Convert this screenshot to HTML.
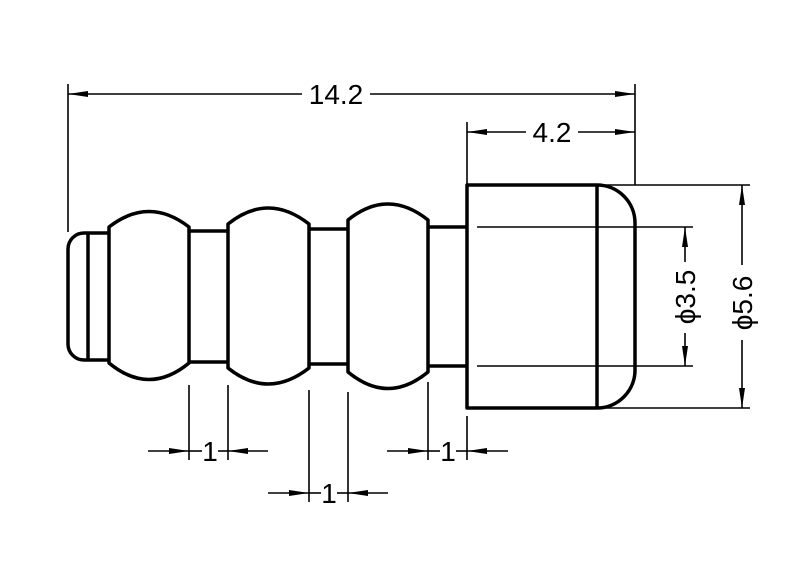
<!DOCTYPE html>
<html><head><meta charset="utf-8"><style>html,body{margin:0;padding:0;background:#fff}</style></head><body>
<svg width="800" height="576" viewBox="0 0 800 576" xmlns="http://www.w3.org/2000/svg">
<defs>
<marker id="a" viewBox="0 0 20 8" refX="20" refY="4" markerWidth="20" markerHeight="8" markerUnits="userSpaceOnUse" orient="auto-start-reverse"><path d="M0,1 L20,4 L0,7 Z" fill="#000"/></marker>
</defs>
<g fill="none" stroke="#000" stroke-width="3.5" stroke-linejoin="round">
<!-- tip -->
<path d="M88,233 L84,233 A16,16 0 0 0 68,249 L68,344 A16,16 0 0 0 84,360 L88,360"/>
<line x1="88" y1="233" x2="88" y2="360"/>
<path d="M88,233 L109,233 M88,360 L109,360"/>
<!-- bead 1 -->
<path d="M109,227 Q149,196 189,227 L189,363 Q149,396 109,363 Z"/>
<path d="M189,231 L228,231 M189,362 L228,362"/>
<path d="M228,224 Q268,192 309,224 L309,368 Q268,400 228,368 Z"/>
<path d="M309,229 L348,229 M309,364 L348,364"/>
<path d="M348,220 Q388,188 428,220 L428,372 Q388,405 348,372 Z"/>
<path d="M428,227 L467,227 M428,366 L467,366"/>
<!-- body -->
<path d="M467,185 L597,185 A38,38 0 0 1 635,223 L635,370 A38,38 0 0 1 597,408 L467,408 Z"/>
<line x1="597" y1="185" x2="597" y2="408"/>
</g>
<g stroke="#000" stroke-width="1.6" fill="none">
<line x1="477" y1="227" x2="693" y2="227"/>
<line x1="477" y1="366" x2="693" y2="366"/>
<line x1="597" y1="185" x2="750" y2="185"/>
<line x1="597" y1="408" x2="750" y2="408"/>
<line x1="68" y1="84" x2="68" y2="232"/>
<line x1="635" y1="84" x2="635" y2="185"/>
<line x1="467" y1="122" x2="467" y2="185"/>
<line x1="189" y1="385" x2="189" y2="460"/>
<line x1="228" y1="385" x2="228" y2="460"/>
<line x1="309" y1="390" x2="309" y2="502"/>
<line x1="348" y1="392" x2="348" y2="502"/>
<line x1="428" y1="382" x2="428" y2="460"/>
<line x1="467" y1="416" x2="467" y2="460"/>
<!-- dims -->
<line x1="68" y1="94" x2="302" y2="94" marker-start="url(#a)"/>
<line x1="370" y1="94" x2="635" y2="94" marker-end="url(#a)"/>
<line x1="467" y1="132" x2="526" y2="132" marker-start="url(#a)"/>
<line x1="578" y1="132" x2="635" y2="132" marker-end="url(#a)"/>
<line x1="148" y1="451" x2="189" y2="451" marker-end="url(#a)"/>
<line x1="268" y1="451" x2="228" y2="451" marker-end="url(#a)"/>
<line x1="189" y1="451" x2="202" y2="451"/><line x1="218" y1="451" x2="228" y2="451"/>
<line x1="268" y1="493" x2="309" y2="493" marker-end="url(#a)"/>
<line x1="388" y1="493" x2="348" y2="493" marker-end="url(#a)"/>
<line x1="309" y1="493" x2="321" y2="493"/><line x1="337" y1="493" x2="348" y2="493"/>
<line x1="387" y1="451" x2="428" y2="451" marker-end="url(#a)"/>
<line x1="508" y1="451" x2="467" y2="451" marker-end="url(#a)"/>
<line x1="428" y1="451" x2="440" y2="451"/><line x1="456" y1="451" x2="467" y2="451"/>
<line x1="685" y1="227" x2="685" y2="262" marker-start="url(#a)"/>
<line x1="685" y1="333" x2="685" y2="366" marker-end="url(#a)"/>
<line x1="742" y1="185" x2="742" y2="265" marker-start="url(#a)"/>
<line x1="742" y1="340" x2="742" y2="408" marker-end="url(#a)"/>
</g>
<g font-family="Liberation Sans, sans-serif" font-size="28" fill="#000" text-anchor="middle">
<text x="336" y="104">14.2</text>
<text x="552" y="142">4.2</text>
<text x="210" y="461">1</text>
<text x="329" y="503">1</text>
<text x="448" y="461">1</text>
<text transform="translate(695,297) rotate(-90)">ϕ3.5</text>
<text transform="translate(752,303) rotate(-90)">ϕ5.6</text>
</g>
</svg>
</body></html>
